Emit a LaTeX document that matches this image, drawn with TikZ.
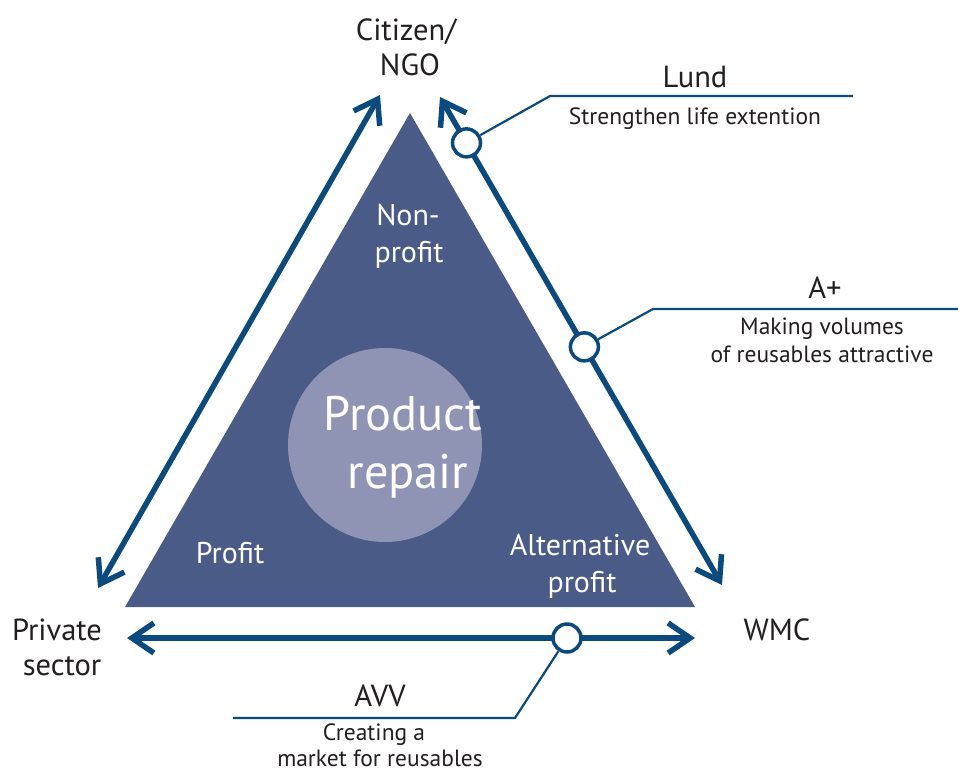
\documentclass[tikz,border=0pt]{standalone}
\usepackage{fontspec}
\setmainfont{PT Sans}
\usetikzlibrary{arrows.meta,calc}
\definecolor{navy}{HTML}{0B4A7E}
\definecolor{tri}{HTML}{4A5B88}
\definecolor{disc}{HTML}{8F94B5}
\definecolor{ink}{HTML}{231F20}
\tikzset{
  big/.style={font=\fontsize{30.5}{35}\selectfont, text=ink, inner sep=0pt, anchor=base},
  note/.style={font=\fontsize{23.5}{28}\selectfont, text=ink, inner sep=0pt, anchor=base},
  inside/.style={font=\fontsize{30}{37}\selectfont, text=white, inner sep=0pt, anchor=base},
  core/.style={font=\fontsize{48.5}{58}\selectfont, text=white, inner sep=0pt, anchor=base},
  link/.style={draw=navy, line width=5.5pt, {Straight Barb[length=22pt,width=30pt]}-{Straight Barb[length=22pt,width=30pt]}},
  lead/.style={draw=navy, line width=2.2pt},
  ring/.style={circle, draw=navy, line width=3.5pt, fill=white, minimum size=28pt, inner sep=0pt},
}
\begin{document}
\begin{tikzpicture}[x=1pt,y=-1pt]
\useasboundingbox (0,0) rectangle (958,774);

% actor triangle and repair disc
\fill[tri] (410,113) -- (695,607) -- (125,607) -- cycle;
\fill[disc] (385,445) circle (97);

% arrow end points
\coordinate (pl) at (98,588);
\coordinate (pt) at (380,95);
\coordinate (qt) at (440,97);
\coordinate (qr) at (722,585);
\coordinate (bl) at (127,638);
\coordinate (br) at (695,638);

\draw[link] (pl) -- (pt);
\draw[link] (qt) -- (qr);
\draw[link] (bl) -- (br);

% junction rings on the arrows
\node[ring] (lundc) at ($(qt)!0.094!(qr)$) {};
\node[ring] (apc) at ($(qt)!0.512!(qr)$) {};
\node[ring] (avvc) at (567,638) {};

% leader lines
\coordinate (lk) at (550,96);
\coordinate (le) at (853,96);
\coordinate (ak) at (653,309);
\coordinate (ae) at (958,309);
\coordinate (vk) at (515,718);
\coordinate (ve) at (233,718);
\draw[lead] (lundc) -- (lk) -- (le);
\draw[lead] (apc) -- (ak) -- (ae);
\draw[lead] (avvc) -- (vk) -- (ve);

% actors
\node[big] (cit1) at (406,40) {Citizen/};
\node[big] (cit2) at (410,75) {NGO};
\node[big] (pri1) at (57,640) {Private};
\node[big] (pri2) at (62,675) {sector};
\node[big] (wmc) at (777,640) {WMC};

% leader labels
\node[big] (lund) at (695,87) {Lund};
\node[note] (lundt) at (695,124) {Strengthen life extention};
\node[big] (ap) at (825,298) {A+};
\node[note] (apt1) at (822,334) {Making volumes};
\node[note] (apt2) at (822,362) {of reusables attractive};
\node[big] (avv) at (380,706) {AVV};
\node[note] (avvt1) at (374,740) {Creating a};
\node[note] (avvt2) at (380,766) {market for reusables};

% triangle labels
\node[inside] (np1) at (408,225) {Non-};
\node[inside] (np2) at (409,262) {profit};
\node[inside] (pf) at (230,563) {Profit};
\node[inside] (alt1) at (580,555) {Alternative};
\node[inside] (alt2) at (582,592) {profit};
\node[core] (pr1) at (403,430) {Product};
\node[core] (pr2) at (408,488) {repair};
\end{tikzpicture}
\end{document}
